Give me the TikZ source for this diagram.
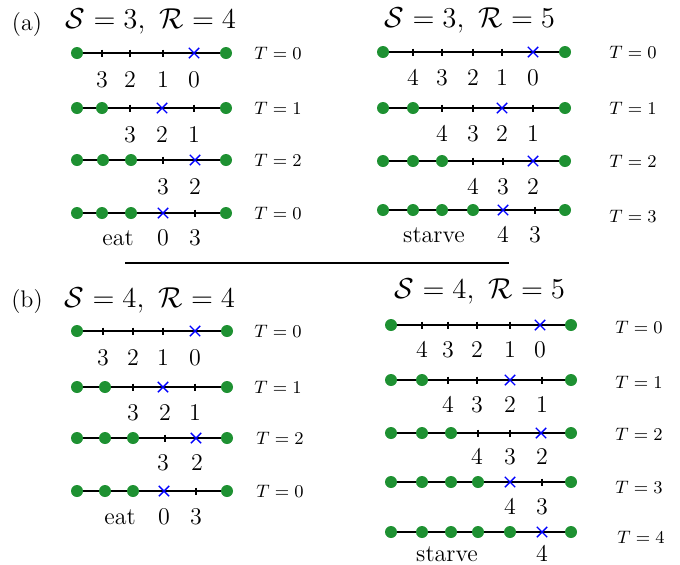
\documentclass[tikz,border=0pt]{standalone}
\usetikzlibrary{shapes.misc}
\definecolor{dotgreen}{RGB}{30,145,50}

\begin{document}
\begin{tikzpicture}[x=0.5pt, y=-0.5pt,
    dot/.style={circle, fill=dotgreen, inner sep=0pt, minimum size=6pt},
    crossmk/.style={cross out, draw=blue, line width=0.7pt, inner sep=0pt, minimum size=4.5pt},
    num/.style={font=\large, anchor=base, inner sep=0pt},
    tlab/.style={font=\small}]
    \useasboundingbox (0,0) rectangle (680,564);

    % panel labels and titles
    \node[font=\large, anchor=base] (pa) at (27,30) {(a)};
    \node[font=\large, anchor=base] (pb) at (27,307) {(b)};
    \node[font=\Large, anchor=base] (ta1) at (151,28) {$\mathcal{S}=3,\ \mathcal{R}=4$};
    \node[font=\Large, anchor=base] (ta2) at (470,27) {$\mathcal{S}=3,\ \mathcal{R}=5$};
    \node[font=\Large, anchor=base] (tb1) at (150,307) {$\mathcal{S}=4,\ \mathcal{R}=4$};
    \node[font=\Large, anchor=base] (tb2) at (480,298) {$\mathcal{S}=4,\ \mathcal{R}=5$};

    % separator between (a) and (b)
    \coordinate (sepL) at (125,263);
    \coordinate (sepR) at (509,263);
    \draw[line width=0.6pt] (sepL) -- (sepR);

    % one row per time step: ends / y / dots / ticks / cross / labels / label baseline / T label
    \foreach \xl/\xr/\y/\dts/\tks/\cx/\labs/\ly/\tx/\ty/\tn in {
        77/226/53/{77,226}/{102,130,163}/194/{102/3,130/2,163/1,194/0}/87/278/53/0,
        77/226/108/{77,102,226}/{130,194}/162/{130/3,162/2,194/1}/142/278/108/1,
        77/226/160/{77,103,131,226}/{163}/195/{163/3,195/2}/194/278/160/2,
        77/226/213/{77,102,131,226}/{195}/163/{118/eat,163/0,195/3}/245/278/213/0,
        383/565/52/{383,565}/{413,442,473,502}/533/{413/4,442/3,473/2,502/1,533/0}/85/633/52/0,
        383/565/108/{383,413,565}/{442,473,533}/502/{442/4,473/3,502/2,533/1}/141/633/108/1,
        383/565/161/{383,413,442,565}/{473,503}/533/{473/4,503/3,533/2}/194/633/161/2,
        383/565/210/{383,413,442,473,565}/{535}/503/{434/starve,503/4,535/3}/242/633/216/3,
        77/227/331/{77,227}/{103,133,163}/195/{103/3,133/2,163/1,195/0}/365/278/331/0,
        77/227/387/{77,105,227}/{133,195}/163/{133/3,165/2,195/1}/420/278/387/1,
        77/227/438/{77,105,133,227}/{165}/196/{163/3,197/2}/470/280/438/2,
        77/227/491/{77,105,133,227}/{196}/164/{120/eat,164/0,196/3}/524/280/491/0,
        391/571/325/{391,571}/{422,448,477,510}/540/{422/4,448/3,477/2,510/1,540/0}/357/639/327/0,
        391/571/380/{391,422,571}/{448,477,542}/510/{448/4,477/3,510/2,542/1}/412/639/382/1,
        391/571/433/{391,422,451,571}/{478,510}/541/{477/4,510/3,542/2}/464/639/434/2,
        391/571/482/{391,422,451,478,571}/{542}/510/{510/4,542/3}/514/639/487/3,
        391/571/532/{391,422,451,478,510,571}/{}/542/{447/starve,542/4}/561/641/537/4} {
        \coordinate (L-\xl-\y) at (\xl,\y);
        \coordinate (R-\xl-\y) at (\xr,\y);
        \draw[line width=0.6pt] (L-\xl-\y) -- (R-\xl-\y);
        % empty sites
        \foreach \x in \tks
            \draw[line width=0.6pt] (\x,\y-3.5) -- (\x,\y+3.5);
        % occupied sites
        \foreach \x in \dts
            \node[dot] (d-\xl-\y-\x) at (\x,\y) {};
        % walker
        \node[crossmk] (c-\xl-\y) at (\cx,\y) {};
        % site labels
        \foreach \lx/\lt in \labs
            \node[num] (n-\xl-\y-\lx) at (\lx,\ly) {\lt};
        \node[tlab] (T-\xl-\y) at (\tx,\ty) {$T=\tn$};
    }
\end{tikzpicture}
\end{document}
